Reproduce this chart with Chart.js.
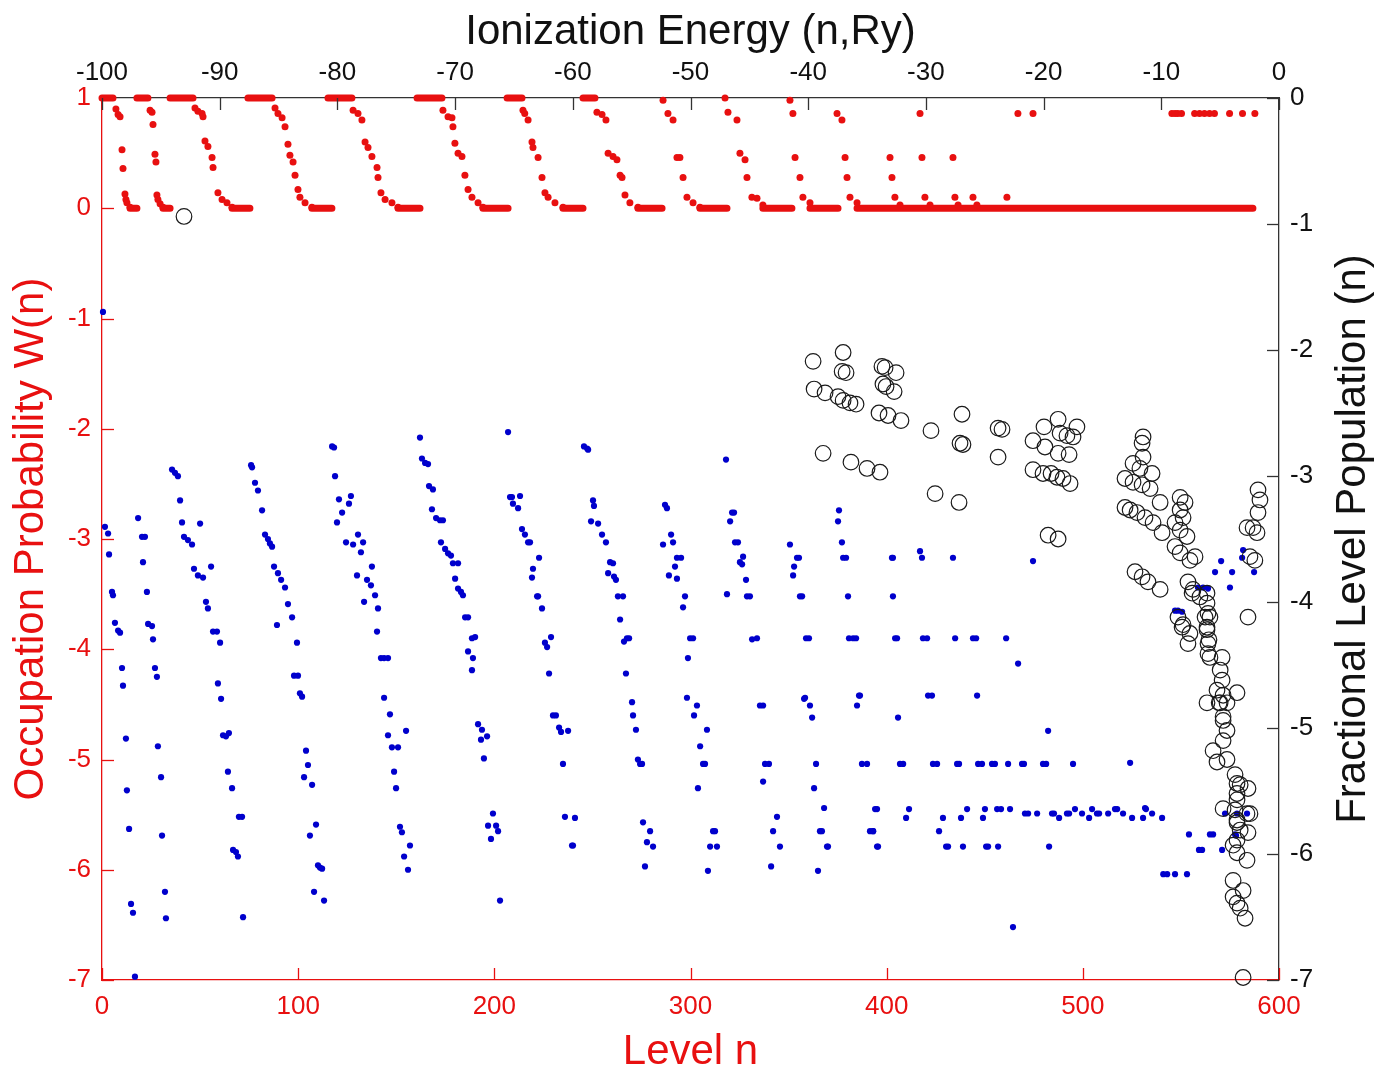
<!DOCTYPE html>
<html>
<head>
<meta charset="utf-8">
<title>Occupation probability and level population</title>
<script src="https://cdn.jsdelivr.net/npm/chart.js@4.4.1/dist/chart.umd.min.js"></script>
<style>
  html, body { margin: 0; padding: 0; background: #fff; }
  #wrap { width: 1381px; height: 1071px; }
</style>
</head>
<body>
<div id="wrap"><canvas id="levelsChart" width="1381" height="1071"></canvas></div>
<script>
// axis ranges and tick steps
const levelRange = [0, 600];        // bottom axis, Level n
const energyRange = [-100, 0];      // top axis, Ionization Energy (n,Ry)
const probRange = [-7, 1];          // left axis, W(n)
const popRange = [-7, 0];           // right axis, fractional population

// W(n): runs of levels sitting at 1 and at 0 (n from, n to)
const wOneRuns = [[0, 5.6], [17.8, 23.4], [34.7, 46.4], [74.4, 86.7], [115.2, 127.4], [160.6, 173.3], [206.5, 214.1], [245.2, 251.3]];
const wZeroRuns = [[14.3, 17.8], [31.1, 34.7], [66.3, 75.4], [107, 117.2], [150.9, 162.1], [194.2, 207], [235, 245.2],
  [273.2, 285.5], [304.8, 318.6], [336.9, 351.7], [360.9, 375.2], [384.9, 586.7]];

// W(n): the falling steps in between [n, W]
const wSteps = [
  [7.1, 0.90], [8.2, 0.85], [9.2, 0.83], [10.2, 0.53], [10.7, 0.36], [11.7, 0.13], [12.2, 0.08], [12.7, 0.05], [14.3, 0.01],
  [24.5, 0.89], [25.5, 0.87], [26, 0.76], [27, 0.49], [27.5, 0.42], [28, 0.12], [28.5, 0.08], [29.6, 0.04], [31.1, 0.01],
  [47.4, 0.91], [48.9, 0.88], [51, 0.86], [51.5, 0.83], [52.5, 0.61], [54, 0.56], [56.1, 0.46], [56.6, 0.37], [59.1, 0.14], [61.2, 0.08], [63.7, 0.05], [66.3, 0.01],
  [88.2, 0.91], [89.7, 0.86], [91.8, 0.82], [93.3, 0.74], [94.8, 0.58], [95.8, 0.48], [97.4, 0.42], [98.4, 0.30], [99.9, 0.17], [100.9, 0.10], [103.5, 0.05], [107, 0.01],
  [128, 0.89], [130.5, 0.86], [132.5, 0.80], [134.1, 0.60], [135.6, 0.55], [137.6, 0.47], [140.2, 0.37], [140.7, 0.28], [142.2, 0.14], [144.3, 0.08], [147.8, 0.05], [150.9, 0.01],
  [173.8, 0.89], [176.4, 0.83], [178.4, 0.82], [178.9, 0.74], [179.9, 0.59], [181.5, 0.50], [183.5, 0.47], [185, 0.30], [186.6, 0.17], [188.6, 0.10], [191.7, 0.05], [194.2, 0.01],
  [214.6, 0.89], [215.5, 0.86], [217.2, 0.80], [219.2, 0.60], [219.7, 0.55], [222.3, 0.46], [224.3, 0.28], [225.8, 0.14], [227.4, 0.10], [230.9, 0.05], [235, 0.01],
  [252.3, 0.87], [254.9, 0.85], [256.9, 0.80], [258, 0.50], [260.5, 0.47], [262.5, 0.44], [264.1, 0.30], [265.1, 0.28], [266.6, 0.12], [269.1, 0.05], [273.2, 0.01],
  [286, 0.98], [288.5, 0.86], [291.1, 0.80], [293.1, 0.46], [294.6, 0.46], [296.2, 0.28], [298.2, 0.10], [301.3, 0.05], [304.8, 0.01],
  [317.6, 1.0], [319.1, 0.87], [323.7, 0.80], [325.2, 0.50], [327.8, 0.44], [328.8, 0.28], [331.3, 0.10], [333.9, 0.09], [336.9, 0.03],
  [350.7, 0.98], [352.2, 0.86], [353.3, 0.46], [355.8, 0.28], [357.3, 0.10], [360.9, 0.05],
  [374.7, 0.86], [377.2, 0.80], [378.8, 0.46], [379.8, 0.28], [381.3, 0.10], [384.9, 0.05],
  [401.7, 0.46], [402.7, 0.28], [404.2, 0.10], [406.8, 0.03],
  [417, 0.86], [418, 0.46], [419.5, 0.10], [422.1, 0.03],
  [433.8, 0.46], [434.8, 0.10], [436.4, 0.03], [444, 0.10], [446, 0.03], [461.3, 0.10],
  [466.9, 0.86], [474.6, 0.86],
  [545.4, 0.86], [547, 0.86], [548.4, 0.86], [550.3, 0.86], [557, 0.86], [559.5, 0.86], [562, 0.86], [564.6, 0.86], [567.1, 0.86], [574.8, 0.86], [581.4, 0.86], [587.7, 0.86]
];

// blue points, left axis [n, value]
const bluePoints = [
  [0.5, -0.94],
  [1.5, -2.89], [3.1, -2.95], [3.6, -3.14], [5.1, -3.48], [5.6, -3.51], [6.6, -3.76], [8.2, -3.83], [9.2, -3.85], [10.2, -4.17], [10.7, -4.33], [12.2, -4.81], [12.7, -5.28], [13.8, -5.63], [14.8, -6.31], [15.8, -6.39], [16.8, -6.97],
  [18.4, -2.81], [20.4, -2.98], [21.9, -2.98], [20.9, -3.21], [22.9, -3.48], [23.5, -3.77], [25.5, -3.79], [26, -3.91], [27, -4.17], [28, -4.25], [28.5, -4.88], [30.1, -5.16], [30.6, -5.69], [32.1, -6.2], [32.6, -6.44],
  [35.7, -2.37], [37.2, -2.4], [38.7, -2.43], [39.8, -2.65], [40.8, -2.85], [41.8, -2.98], [43.8, -3.01], [45.9, -3.05], [50, -2.86], [46.9, -3.27], [48.9, -3.33], [51.5, -3.35], [55.6, -3.25], [53, -3.57], [54, -3.63],
  [56.6, -3.84], [58.6, -3.84], [60.2, -3.94], [59.1, -4.31], [60.7, -4.45], [61.7, -4.78], [63.2, -4.79], [64.7, -4.76], [64.2, -5.11], [66.3, -5.26], [69.8, -5.52], [71.4, -5.52], [66.8, -5.82], [68.3, -5.84], [69.3, -5.88], [71.9, -6.43],
  [76, -2.33], [76.5, -2.35], [78, -2.49], [79.5, -2.56], [81.6, -2.74], [83.1, -2.96], [84.6, -3.0], [85.6, -3.04], [86.7, -3.07], [87.7, -3.25], [89.7, -3.31], [91.3, -3.37], [93.3, -3.44], [94.8, -3.59], [96.9, -3.71], [89.2, -3.78],
  [97.9, -4.24], [99.9, -4.24], [99.4, -3.94], [100.9, -4.4], [102, -4.43], [104, -4.92], [105, -5.05], [103, -5.16], [107.1, -5.23], [109.1, -5.59], [106, -5.69], [110.1, -5.96], [111.1, -5.98], [112.2, -5.99], [108.1, -6.2], [113.2, -6.28],
  [117.3, -2.16], [118.3, -2.17], [118.8, -2.43], [120.8, -2.64], [126.9, -2.61], [125.9, -2.68], [122.4, -2.76], [119.8, -2.85], [124.4, -3.03], [128, -3.05], [130.5, -2.96], [133.1, -3.03], [132, -3.12], [137.6, -3.25], [130, -3.33],
  [135.1, -3.37], [137.1, -3.42], [139.2, -3.51], [133.6, -3.57], [140.7, -3.63], [140.2, -3.84], [142.2, -4.08], [143.8, -4.08], [145.8, -4.08], [143.8, -4.44], [146.8, -4.59], [145.8, -4.78], [147.8, -4.89], [150.9, -4.89], [155, -4.74],
  [148.9, -5.11], [149.9, -5.26], [151.9, -5.61], [152.9, -5.66], [157, -5.78], [154, -5.88], [156, -6.0],
  [162.1, -2.08], [163.1, -2.27], [164.7, -2.31], [166.2, -2.32], [166.7, -2.52], [168.7, -2.55], [168.2, -2.73], [170.3, -2.81], [172.3, -2.83], [173.8, -2.83], [172.8, -3.03], [174.9, -3.09], [176.4, -3.13], [177.9, -3.15], [178.9, -3.22],
  [181.5, -3.22], [180, -3.36], [181.5, -3.45], [183, -3.48], [184, -3.51], [185.1, -3.71], [186.6, -3.71], [190.2, -3.89], [188.6, -3.9], [189.1, -4.08], [186.6, -4.02], [188.6, -4.19], [191.7, -4.68], [193.7, -4.73], [196.3, -4.79],
  [193.2, -4.82], [194.7, -4.99], [199.3, -5.49], [196.8, -5.6], [200.9, -5.6], [201.9, -5.65], [198.3, -5.72], [202.9, -6.28],
  [207, -2.03], [208, -2.62], [209, -2.62], [213.1, -2.61], [209.5, -2.68], [212.1, -2.72], [214.1, -2.91], [215.6, -2.96], [217.2, -3.03], [218.2, -3.03], [222.8, -3.17], [219.7, -3.27], [219.2, -3.35], [221.8, -3.52], [222.3, -3.52],
  [224.3, -3.63], [225.8, -3.94], [226.9, -3.98], [228.9, -3.89], [227.9, -4.22], [229.9, -4.6], [231.4, -4.6], [233, -4.71], [234, -4.75], [237.6, -4.74], [235, -5.04], [236, -5.52], [241.1, -5.53], [239.6, -5.78], [240.1, -5.78],
  [245.7, -2.16], [247.3, -2.18], [247.8, -2.19], [250.3, -2.65], [250.8, -2.7], [249.3, -2.84], [252.9, -2.86], [254.9, -2.96], [256.9, -3.03], [259, -3.21], [260.5, -3.22], [258, -3.31], [261, -3.34], [262, -3.37], [263, -3.52],
  [265.6, -3.52], [264.1, -3.73], [266.1, -3.93], [267.6, -3.9], [268.7, -3.9], [267.1, -4.22], [270.2, -4.48], [270.7, -4.6], [272.2, -4.73], [273.2, -5.0], [274.3, -5.04], [275.3, -5.04], [275.8, -5.57], [279.4, -5.65], [277.8, -5.75],
  [280.9, -5.79], [276.8, -5.97],
  [287, -2.69], [288, -2.72], [290.1, -2.96], [286, -3.05], [291.1, -3.03], [293.1, -3.17], [295.2, -3.17], [292.1, -3.25], [289, -3.33], [293.1, -3.36], [297.2, -3.52], [296.2, -3.62], [299.8, -3.9], [301.3, -3.9], [298.7, -4.08],
  [298.2, -4.44], [301.8, -4.6], [303.3, -4.51], [308.4, -4.73], [304.9, -4.88], [306.4, -5.04], [307.4, -5.04], [303.8, -5.26], [311.5, -5.65], [312.5, -5.65], [310, -5.79], [313.5, -5.79], [308.9, -6.01],
  [318.1, -2.28], [321.2, -2.76], [322.2, -2.76], [320.2, -2.84], [322.7, -3.03], [324.2, -3.03], [326.8, -3.16], [325.2, -3.21], [326.3, -3.23], [328.3, -3.37], [318.6, -3.5], [328.8, -3.52], [330.3, -3.52], [331.4, -3.91], [333.9, -3.9],
  [335.4, -4.51], [337, -4.51], [338, -5.04], [340, -5.04], [337, -5.2], [344.1, -5.52], [342.1, -5.65], [345.6, -5.79], [341.1, -5.97],
  [350.7, -3.05], [354.3, -3.17], [355.3, -3.17], [352.8, -3.25], [352.3, -3.33], [355.8, -3.52], [356.9, -3.52], [358.9, -3.9], [360.4, -3.9], [358.4, -4.44], [357.9, -4.45], [360.9, -4.51], [362, -4.62], [364, -5.04], [363, -5.26],
  [368.1, -5.44], [366, -5.65], [367, -5.65], [369.6, -5.79], [370.1, -5.79], [365, -6.01],
  [375.7, -2.74], [375.2, -2.84], [377.2, -3.03], [377.8, -3.17], [379.3, -3.17], [380.3, -3.52], [380.8, -3.9], [382.9, -3.9], [384.4, -3.9], [385.9, -4.42], [384.9, -4.51], [387.4, -5.04], [390, -5.04], [395.1, -5.45], [391.5, -5.65],
  [393.1, -5.65], [395.1, -5.79],
  [402.7, -3.17], [403.2, -3.17], [417, -3.11], [418, -3.17], [433.8, -3.17], [474.6, -3.2], [403.2, -3.52],
  [404.3, -3.9], [405.3, -3.9], [418.5, -3.9], [420.6, -3.9], [434.9, -3.9], [444, -3.9], [445.6, -3.9], [460.9, -3.9], [467, -4.13],
  [386.4, -4.42], [421.1, -4.42], [423.1, -4.42], [446.1, -4.42], [405.8, -4.62], [482.3, -4.74],
  [406.8, -5.04], [408.4, -5.04], [423.6, -5.04], [425.7, -5.04], [435.9, -5.04], [436.9, -5.04], [446.6, -5.04], [448.6, -5.04], [453.7, -5.04], [455.2, -5.04], [461.9, -5.04], [469, -5.04], [470, -5.04], [479.7, -5.04], [481.3, -5.04],
  [495, -5.04], [524.1, -5.03],
  [394.1, -5.45], [411.4, -5.45], [409.9, -5.53], [428.7, -5.53], [441, -5.45], [437.9, -5.53], [450.1, -5.45], [449.1, -5.53], [456.3, -5.45], [458.3, -5.45], [462.9, -5.45], [470.5, -5.49], [472.1, -5.49], [476.7, -5.49], [484.3, -5.49],
  [485.3, -5.49], [487.9, -5.53], [491.9, -5.49], [493, -5.49], [496, -5.45], [499.6, -5.49], [503.2, -5.53], [504.7, -5.45], [507.2, -5.49], [508.3, -5.49], [512.9, -5.49], [516.4, -5.45], [517.5, -5.45], [520.5, -5.49], [525.1, -5.53],
  [530.7, -5.53], [531.7, -5.44], [532.2, -5.45], [535.3, -5.49], [540.4, -5.53],
  [393.1, -5.65], [426.7, -5.65], [395.6, -5.79], [430.3, -5.79], [431.3, -5.79], [438.9, -5.79], [450.7, -5.79], [451.7, -5.79], [456.8, -5.79], [482.8, -5.79], [464.4, -6.52],
  [541, -6.04], [543, -6.04], [547, -6.04], [553.1, -6.04],
  [554.1, -5.68], [564.8, -5.68], [566.4, -5.68], [559.2, -5.82], [560.8, -5.82], [571, -5.82], [577.6, -5.68], [578.1, -5.69],
  [572.5, -5.49], [578.6, -5.49], [583.7, -5.49],
  [570.5, -3.2], [567.4, -3.3], [576.1, -3.3], [575, -3.44], [581.7, -3.1], [581.2, -3.17], [587.3, -3.3],
  [547, -3.65], [548.5, -3.65], [550.6, -3.66], [558.7, -3.44], [561.3, -3.44], [563.8, -3.45]
];

// black circles, right axis [n, population]
const popPoints = [
  [41.8, -0.94],
  [362.5, -2.09], [377.8, -2.02], [377.3, -2.17], [379.3, -2.18], [363, -2.31], [368.6, -2.34], [375.2, -2.37], [377.8, -2.4], [381.3, -2.42], [384.4, -2.43],
  [397.6, -2.13], [399.2, -2.14], [404.8, -2.18], [398.1, -2.27], [399.7, -2.29], [403.8, -2.33], [396.1, -2.5], [400.7, -2.52], [407.3, -2.56],
  [367.6, -2.82], [381.8, -2.89], [390, -2.94], [396.6, -2.97],
  [422.6, -2.64], [438.4, -2.51], [437.4, -2.74], [438.9, -2.75], [424.7, -3.14], [436.9, -3.21],
  [456.8, -2.62], [458.8, -2.63], [456.8, -2.85],
  [480.2, -2.61], [487.4, -2.55], [474.6, -2.72], [480.7, -2.77], [488.4, -2.66], [491.9, -2.68], [495, -2.69], [487.4, -2.82], [493, -2.83],
  [474.6, -2.95], [479.7, -2.98], [483.8, -2.98], [486.8, -3.01], [489.9, -3.02], [493.5, -3.06], [497, -2.61], [482.3, -3.47], [487.4, -3.5],
  [530.7, -2.69], [530.2, -2.74], [530.7, -2.85], [525.6, -2.9], [529.1, -2.94], [535.3, -2.98], [521.5, -3.02], [525.6, -3.05], [530.2, -3.07], [534.3, -3.1], [539.4, -3.21],
  [521.5, -3.25], [524.1, -3.27], [527.6, -3.29], [531.7, -3.33], [535.8, -3.37], [540.4, -3.45],
  [549.6, -3.17], [552.1, -3.21], [549.6, -3.27], [551.1, -3.33], [547, -3.37], [549.6, -3.43], [553.1, -3.48], [547, -3.56], [549.6, -3.61], [554.6, -3.67], [557.2, -3.64],
  [553.6, -3.84], [556.2, -3.9], [555.7, -3.93], [559.7, -3.96], [563.3, -4.01], [564.8, -4.12], [562.3, -4.12],
  [526.6, -3.76], [530.2, -3.8], [533.2, -3.84], [539.4, -3.9],
  [548.5, -4.12], [551.1, -4.18], [550.6, -4.2], [554.6, -4.25], [553.6, -4.33],
  [563.3, -3.93], [563.8, -4.09], [563.3, -4.2], [563.3, -4.22], [564.3, -4.3], [563.8, -4.33], [563.8, -4.41], [564.8, -4.44],
  [571, -4.44], [570, -4.54], [571, -4.62], [568.4, -4.7], [571.5, -4.74], [578.6, -4.72], [563.3, -4.8], [573.5, -4.8], [570, -4.8], [569.5, -4.8],
  [571.5, -4.91], [571.5, -4.94], [573.5, -5.02], [571.5, -5.1], [566.4, -5.18], [568.4, -5.27], [573.5, -5.25],
  [589.3, -3.11], [590.3, -3.19], [589.3, -3.29], [586.8, -3.41], [588.8, -3.45], [583.7, -3.41], [585.2, -3.64], [587.7, -3.67], [584.2, -4.12],
  [577.6, -5.37], [578.6, -5.44], [580.2, -5.45], [584.2, -5.48], [578.6, -5.52], [578.6, -5.57], [571.5, -5.64], [577.6, -5.65], [583.7, -5.68], [585.2, -5.68],
  [578.6, -5.73], [578.6, -5.75], [580.2, -5.81], [584.2, -5.83], [578.6, -5.89], [576.6, -5.93], [578.6, -5.99], [583.7, -6.05],
  [576.6, -6.21], [581.7, -6.29], [576.6, -6.34], [578.6, -6.39], [580.2, -6.43], [582.7, -6.51], [581.7, -6.98]
];

const RED = '#e81010';
const BLUE = '#0000cc';
const FONT = '"Liberation Sans", Arial, Helvetica, sans-serif';

// turn runs into line segments broken by gaps
function runsToLine(runs, w) {
  const pts = [];
  runs.forEach(([a, b]) => {
    pts.push({ x: a, y: w }, { x: b, y: w }, { x: b, y: null });
  });
  return pts;
}
const toXY = list => list.map(([x, y]) => ({ x, y }));

// inward tick marks (matlab style) and the right axis label read bottom-to-top
const matlabFrame = {
  id: 'matlabFrame',
  afterDraw(chart) {
    const { ctx, chartArea: a, scales } = chart;
    const L = 12;
    ctx.save();
    ctx.lineWidth = 1.3;
    ctx.strokeStyle = RED;
    scales.y.ticks.forEach(t => {
      const y = Math.round(scales.y.getPixelForValue(t.value)) + 0.5;
      ctx.beginPath(); ctx.moveTo(a.left, y); ctx.lineTo(a.left + L, y); ctx.stroke();
    });
    scales.x.ticks.forEach(t => {
      const x = Math.round(scales.x.getPixelForValue(t.value)) + 0.5;
      ctx.beginPath(); ctx.moveTo(x, a.bottom); ctx.lineTo(x, a.bottom - L); ctx.stroke();
    });
    ctx.strokeStyle = '#333';
    scales.y2.ticks.forEach(t => {
      const y = Math.round(scales.y2.getPixelForValue(t.value)) + 0.5;
      ctx.beginPath(); ctx.moveTo(a.right, y); ctx.lineTo(a.right - L, y); ctx.stroke();
    });
    scales.x2.ticks.forEach(t => {
      const x = Math.round(scales.x2.getPixelForValue(t.value)) + 0.5;
      ctx.beginPath(); ctx.moveTo(x, a.top); ctx.lineTo(x, a.top + L); ctx.stroke();
    });
    // right axis title
    ctx.translate(1353, (a.top + a.bottom) / 2);
    ctx.rotate(-Math.PI / 2);
    ctx.fillStyle = '#111';
    ctx.font = '42px ' + FONT;
    ctx.textAlign = 'center';
    ctx.textBaseline = 'middle';
    ctx.fillText('Fractional Level Population (n)', 0, 0);
    ctx.restore();
  }
};

new Chart(document.getElementById('levelsChart').getContext('2d'), {
  type: 'scatter',
  data: {
    datasets: [
      {
        label: 'Population',
        data: toXY(popPoints),
        xAxisID: 'x', yAxisID: 'y2',
        pointStyle: 'circle', pointRadius: 7.8,
        borderColor: '#1a1a1a', borderWidth: 1.2,
        backgroundColor: 'rgba(0,0,0,0)',
        clip: false
      },
      {
        label: 'Blue',
        data: toXY(bluePoints),
        xAxisID: 'x', yAxisID: 'y',
        pointRadius: 3.1, borderWidth: 0,
        backgroundColor: BLUE,
        clip: false
      },
      {
        label: 'W steps',
        data: toXY(wSteps),
        xAxisID: 'x', yAxisID: 'y',
        pointRadius: 3.5, borderWidth: 0,
        backgroundColor: RED,
        clip: false
      },
      {
        label: 'W = 1',
        data: runsToLine(wOneRuns, 1),
        xAxisID: 'x', yAxisID: 'y',
        showLine: true, spanGaps: false, pointRadius: 0,
        borderColor: RED, borderWidth: 7, borderCapStyle: 'round',
        clip: false
      },
      {
        label: 'W = 0',
        data: runsToLine(wZeroRuns, 0),
        xAxisID: 'x', yAxisID: 'y',
        showLine: true, spanGaps: false, pointRadius: 0,
        borderColor: RED, borderWidth: 7, borderCapStyle: 'round',
        clip: false
      }
    ]
  },
  options: {
    responsive: false,
    animation: false,
    events: [],
    layout: { padding: 0 },
    plugins: { legend: { display: false }, tooltip: { enabled: false } },
    scales: {
      x: {
        type: 'linear', position: 'bottom',
        min: levelRange[0], max: levelRange[1],
        afterFit: s => { s.height = 91; },
        border: { color: RED, width: 1.3 },
        grid: { drawOnChartArea: false, drawTicks: false },
        ticks: { stepSize: 100, color: RED, padding: 11, font: { family: FONT, size: 26 } },
        title: { display: true, text: 'Level n', color: RED, padding: { top: 0, bottom: -7 }, font: { family: FONT, size: 42 } }
      },
      x2: {
        type: 'linear', position: 'top',
        min: energyRange[0], max: energyRange[1],
        afterFit: s => { s.height = 98; },
        border: { color: '#333', width: 1.3 },
        grid: { drawOnChartArea: false, drawTicks: false },
        ticks: { stepSize: 10, color: '#111', padding: 10, font: { family: FONT, size: 26 } },
        title: { display: true, text: 'Ionization Energy (n,Ry)', color: '#111', padding: { top: 7, bottom: 0 }, font: { family: FONT, size: 42 } }
      },
      y: {
        type: 'linear', position: 'left',
        min: probRange[0], max: probRange[1],
        afterFit: s => { s.width = 102; },
        border: { color: RED, width: 1.3 },
        grid: { drawOnChartArea: false, drawTicks: false },
        ticks: { stepSize: 1, color: RED, padding: 11, font: { family: FONT, size: 26 } },
        title: { display: true, text: 'Occupation Probability W(n)', color: RED, padding: { top: 6, bottom: 0 }, font: { family: FONT, size: 42 } }
      },
      y2: {
        type: 'linear', position: 'right',
        min: popRange[0], max: popRange[1],
        afterFit: s => { s.width = 102; },
        border: { color: '#333', width: 1.3 },
        grid: { drawOnChartArea: false, drawTicks: false },
        ticks: { stepSize: 1, color: '#111', padding: 11, font: { family: FONT, size: 26 } },
        title: { display: false }
      }
    }
  },
  plugins: [matlabFrame]
});
</script>
</body>
</html>
